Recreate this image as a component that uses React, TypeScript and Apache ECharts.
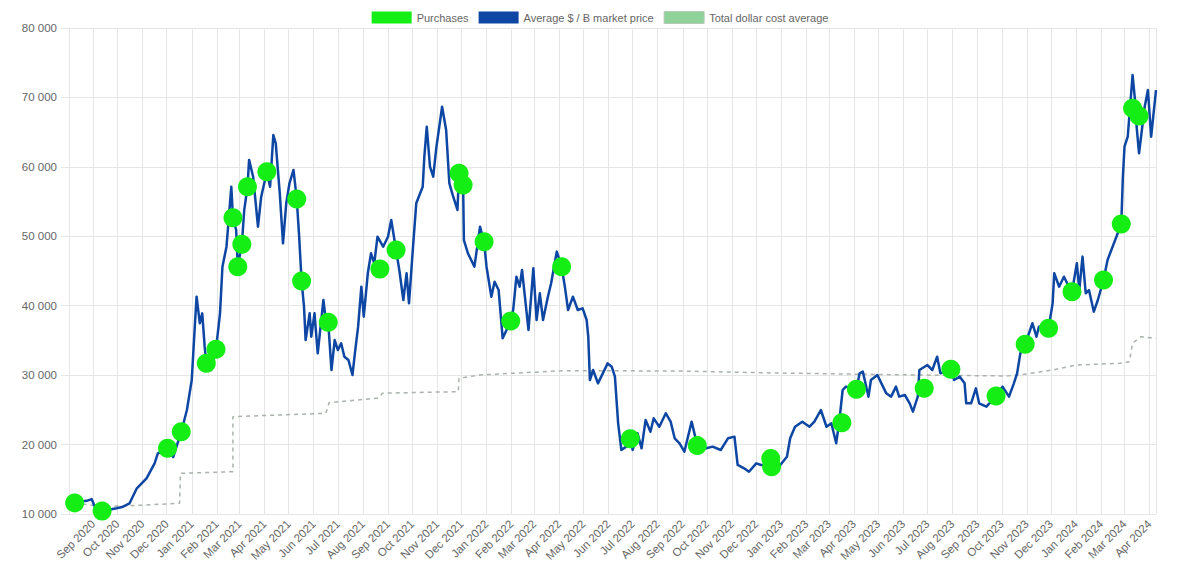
import React, { useEffect, useRef } from 'react';
import * as echarts from 'echarts';

const MONTHS = ['Jan', 'Feb', 'Mar', 'Apr', 'May', 'Jun', 'Jul', 'Aug', 'Sep', 'Oct', 'Nov', 'Dec'];

const X_MIN = '2020-08-02';
const X_MAX = '2024-04-09';
const Y_TICKS = [10000, 20000, 30000, 40000, 50000, 60000, 70000, 80000];

const PURCHASES: [string, number][] = [
  ['2020-08-09', 11600], ['2020-09-12', 10430], ['2020-12-02', 19460], ['2020-12-19', 21850],
  ['2021-01-19', 31700], ['2021-01-31', 33720], ['2021-02-21', 52680], ['2021-02-27', 45620],
  ['2021-03-04', 48840], ['2021-03-11', 57140], ['2021-04-04', 59300], ['2021-05-11', 55370],
  ['2021-05-17', 43560], ['2021-06-19', 37610], ['2021-08-22', 45290], ['2021-09-11', 48020],
  ['2021-11-28', 59070], ['2021-12-03', 57390], ['2021-12-29', 49220], ['2022-01-31', 37800],
  ['2022-04-04', 45620], ['2022-06-28', 20830], ['2022-09-19', 19850], ['2022-12-19', 18000],
  ['2022-12-20', 16800], ['2023-03-17', 23140], ['2023-04-04', 27960], ['2023-06-27', 28100],
  ['2023-07-30', 30840], ['2023-09-24', 27000], ['2023-10-30', 34440], ['2023-11-28', 36750],
  ['2023-12-27', 42020], ['2024-02-04', 43700], ['2024-02-26', 51770], ['2024-03-11', 68430],
  ['2024-03-19', 67320],
];

const PRICE_2020: [string, number][] = [
  ['2020-08-09', 11700], ['2020-08-24', 11900], ['2020-08-30', 12150], ['2020-09-03', 11050],
  ['2020-09-12', 10430], ['2020-09-30', 10820], ['2020-10-08', 11050], ['2020-10-16', 11540],
  ['2020-10-25', 13700], ['2020-11-06', 15140], ['2020-11-16', 17300], ['2020-11-20', 18740],
  ['2020-12-02', 19460], ['2020-12-09', 18200], ['2020-12-19', 21850], ['2020-12-26', 24980],
];

const PRICE_2021: [string, number][] = [
  ['2021-01-01', 29300], ['2021-01-05', 37470], ['2021-01-07', 41300], ['2021-01-11', 37470],
  ['2021-01-14', 38900], ['2021-01-17', 34100], ['2021-01-19', 31700], ['2021-01-25', 30740],
  ['2021-01-31', 33720], ['2021-02-05', 38900], ['2021-02-08', 45620], ['2021-02-13', 48500],
  ['2021-02-19', 57140], ['2021-02-21', 52680], ['2021-02-25', 50900], ['2021-02-27', 45620],
  ['2021-03-04', 48840], ['2021-03-07', 53790], ['2021-03-11', 57140], ['2021-03-13', 61000],
  ['2021-03-18', 58580], ['2021-03-24', 51380], ['2021-03-28', 55700], ['2021-04-04', 59300],
  ['2021-04-08', 57140], ['2021-04-12', 64590], ['2021-04-15', 63390], ['2021-04-20', 56180],
  ['2021-04-24', 48980], ['2021-04-28', 54750], ['2021-05-02', 57630], ['2021-05-07', 59550],
  ['2021-05-11', 55370], ['2021-05-14', 49940], ['2021-05-17', 43560], ['2021-05-20', 39860],
  ['2021-05-22', 35060], ['2021-05-27', 38900], ['2021-05-29', 35540], ['2021-06-02', 38900],
  ['2021-06-06', 33140], ['2021-06-13', 40820], ['2021-06-17', 36980], ['2021-06-19', 37610],
  ['2021-06-23', 30740], ['2021-06-27', 35060], ['2021-07-01', 33620], ['2021-07-05', 34590],
  ['2021-07-09', 32660], ['2021-07-14', 32180], ['2021-07-19', 30020], ['2021-07-22', 33140],
  ['2021-07-26', 36980], ['2021-07-30', 42740], ['2021-08-02', 38420], ['2021-08-07', 44670],
  ['2021-08-11', 47550], ['2021-08-15', 46110], ['2021-08-19', 49940], ['2021-08-26', 48500],
  ['2021-09-01', 49940], ['2021-09-05', 52340], ['2021-09-11', 48020], ['2021-09-15', 45140],
  ['2021-09-20', 40820], ['2021-09-24', 44670], ['2021-09-27', 40340], ['2021-10-02', 48500],
  ['2021-10-06', 54750], ['2021-10-14', 57140], ['2021-10-16', 61460], ['2021-10-19', 65780],
  ['2021-10-23', 60020], ['2021-10-27', 58580], ['2021-10-31', 62900], ['2021-11-07', 68660],
  ['2021-11-12', 65300], ['2021-11-16', 57630], ['2021-11-20', 56000], ['2021-11-26', 53790],
  ['2021-11-28', 59070], ['2021-12-01', 56660], ['2021-12-03', 57390], ['2021-12-04', 49460],
  ['2021-12-09', 47550], ['2021-12-17', 45620], ['2021-12-24', 51380], ['2021-12-29', 49220],
];

const PRICE_2022: [string, number][] = [
  ['2022-01-01', 45620], ['2022-01-07', 41300], ['2022-01-11', 43460], ['2022-01-16', 42260],
  ['2022-01-21', 35300], ['2022-01-31', 37800], ['2022-02-03', 39380], ['2022-02-07', 44180],
  ['2022-02-11', 42740], ['2022-02-14', 45140], ['2022-02-22', 36500], ['2022-02-28', 45380],
  ['2022-03-04', 37940], ['2022-03-08', 41780], ['2022-03-12', 37940], ['2022-03-18', 41300],
  ['2022-03-22', 43230], ['2022-03-29', 47790], ['2022-04-04', 45620], ['2022-04-08', 42740],
  ['2022-04-12', 39380], ['2022-04-18', 41300], ['2022-04-24', 39380], ['2022-04-30', 39620],
  ['2022-05-05', 37940], ['2022-05-07', 35540], ['2022-05-09', 29300], ['2022-05-13', 30740],
  ['2022-05-19', 28820], ['2022-05-25', 30260], ['2022-05-31', 31700], ['2022-06-05', 31220],
  ['2022-06-09', 29780], ['2022-06-13', 23060], ['2022-06-17', 19220], ['2022-06-23', 19700],
  ['2022-06-28', 20830], ['2022-07-01', 19220], ['2022-07-07', 21620], ['2022-07-12', 19460],
  ['2022-07-17', 23540], ['2022-07-23', 21850], ['2022-07-27', 23780], ['2022-08-03', 22570],
  ['2022-08-11', 24500], ['2022-08-17', 23300], ['2022-08-22', 20900], ['2022-08-28', 20180],
  ['2022-09-03', 18970], ['2022-09-12', 23300], ['2022-09-19', 19850], ['2022-09-30', 19460],
  ['2022-10-08', 19700], ['2022-10-18', 19220], ['2022-10-27', 20900], ['2022-11-04', 21140],
  ['2022-11-08', 17060], ['2022-11-16', 16580], ['2022-11-22', 16090], ['2022-12-01', 17300],
  ['2022-12-07', 17060], ['2022-12-19', 17100], ['2022-12-29', 16810],
];

const PRICE_2023: [string, number][] = [
  ['2023-01-08', 18250], ['2023-01-12', 20900], ['2023-01-18', 22570], ['2023-01-27', 23300],
  ['2023-02-05', 22570], ['2023-02-11', 23300], ['2023-02-19', 24980], ['2023-02-26', 22570],
  ['2023-03-04', 23060], ['2023-03-10', 20180], ['2023-03-14', 23540], ['2023-03-18', 27860],
  ['2023-03-22', 28340], ['2023-04-04', 27960], ['2023-04-08', 30260], ['2023-04-12', 30500],
  ['2023-04-19', 26900], ['2023-04-22', 29300], ['2023-04-30', 30020], ['2023-05-05', 28820],
  ['2023-05-11', 27380], ['2023-05-17', 26900], ['2023-05-23', 28340], ['2023-05-27', 26900],
  ['2023-06-03', 27140], ['2023-06-09', 25940], ['2023-06-13', 24740], ['2023-06-19', 26900],
  ['2023-06-21', 30740], ['2023-07-01', 31460], ['2023-07-07', 30740], ['2023-07-13', 32660],
  ['2023-07-17', 30260], ['2023-07-30', 30840], ['2023-08-03', 29300], ['2023-08-10', 29780],
  ['2023-08-16', 28820], ['2023-08-18', 25940], ['2023-08-24', 25940], ['2023-08-30', 28100],
  ['2023-09-03', 25940], ['2023-09-12', 25460], ['2023-09-24', 27000], ['2023-10-02', 28340],
  ['2023-10-10', 26900], ['2023-10-16', 28820], ['2023-10-20', 30260], ['2023-10-24', 33140],
  ['2023-10-30', 34440], ['2023-11-08', 37470], ['2023-11-13', 35540], ['2023-11-16', 36980],
  ['2023-11-28', 36750], ['2023-12-03', 40340], ['2023-12-05', 44670], ['2023-12-11', 42740],
  ['2023-12-17', 44180], ['2023-12-21', 43230], ['2023-12-27', 42020],
];

const PRICE_2024: [string, number][] = [
  ['2024-01-02', 46110], ['2024-01-05', 42260], ['2024-01-09', 47070], ['2024-01-13', 41780],
  ['2024-01-17', 42260], ['2024-01-23', 39140], ['2024-01-28', 40820], ['2024-02-04', 43700],
  ['2024-02-09', 46590], ['2024-02-26', 51770], ['2024-02-28', 58580], ['2024-03-01', 62900],
  ['2024-03-05', 64340], ['2024-03-11', 73230], ['2024-03-14', 69600], ['2024-03-16', 65780],
  ['2024-03-19', 61950], ['2024-03-26', 68660], ['2024-03-30', 71060], ['2024-04-03', 64340],
  ['2024-04-09', 71060],
];

const DCA_AVERAGE: [string, number][] = [
  ['2020-08-09', 11600], ['2020-09-12', 11100], ['2020-10-28', 11250], ['2020-12-17', 11540],
  ['2020-12-18', 15860], ['2021-02-21', 16100], ['2021-02-21', 24020], ['2021-06-16', 24500],
  ['2021-06-20', 26030], ['2021-08-20', 26700], ['2021-08-25', 27400], ['2021-11-27', 27620],
  ['2021-11-28', 29540], ['2021-12-23', 30020], ['2022-04-05', 30640], ['2022-08-28', 30600],
  ['2022-12-05', 30350], ['2023-03-22', 30160], ['2023-06-21', 30020], ['2023-10-06', 29880],
  ['2023-10-23', 30020], ['2023-12-03', 30740], ['2024-01-01', 31460], ['2024-02-24', 31700],
  ['2024-03-07', 31940], ['2024-03-11', 34590], ['2024-03-21', 35540], ['2024-04-09', 35300],
];

const PRICE = [...PRICE_2020, ...PRICE_2021, ...PRICE_2022, ...PRICE_2023, ...PRICE_2024];

const GRID_COLOR = '#e6e6e6';
const TEXT_COLOR = '#666';
const FONT = '"Liberation Sans", Arial, Helvetica, sans-serif';

function fmtThousands(v: number) {
  return String(v).replace(/\B(?=(\d{3})+(?!\d))/g, ' ');
}

export default function App() {
  const ref = useRef<HTMLDivElement>(null);
  useEffect(() => {
    if (!ref.current) return;
    const chart = echarts.init(ref.current, null, { renderer: 'svg' });
    chart.setOption({
      animation: false,
      backgroundColor: '#fff',
      textStyle: { fontFamily: FONT },
      legend: {
        top: 6,
        left: 'center',
        icon: 'rect',
        itemWidth: 40,
        itemHeight: 12,
        itemGap: 10,
        textStyle: { color: TEXT_COLOR, fontSize: 11, fontFamily: FONT },
        data: [
          { name: 'Purchases' },
          { name: 'Average $ / Ƀ market price' },
          { name: 'Total dollar cost average', itemStyle: { color: '#8fd39a', borderColor: '#b5c9b5', borderWidth: 1 } },
        ],
      },
      grid: { left: 69, right: 44, top: 28, bottom: 70, containLabel: false, outerBoundsMode: 'none' },
      xAxis: {
        type: 'time',
        min: X_MIN,
        max: X_MAX,
        minInterval: 28 * 86400000,
        maxInterval: 31 * 86400000,
        axisLine: { show: true, lineStyle: { color: GRID_COLOR } },
        axisTick: { show: false },
        splitLine: { show: true, lineStyle: { color: GRID_COLOR, width: 1 } },
        axisLabel: {
          rotate: 45,
          color: TEXT_COLOR,
          fontSize: 11.5,
          fontFamily: FONT,
          margin: 8,
          hideOverlap: false,
          formatter: (v: number) => {
            const d = new Date(v);
            return MONTHS[d.getMonth()] + ' ' + d.getFullYear();
          },
        },
      },
      yAxis: {
        type: 'value',
        min: Y_TICKS[0],
        max: Y_TICKS[Y_TICKS.length - 1],
        interval: 10000,
        axisLine: { show: true, lineStyle: { color: GRID_COLOR } },
        axisTick: { show: true, length: 8, lineStyle: { color: GRID_COLOR } },
        splitLine: { show: true, lineStyle: { color: GRID_COLOR, width: 1 } },
        axisLabel: {
          color: TEXT_COLOR,
          fontSize: 11.5,
          fontFamily: FONT,
          margin: 12,
          formatter: (v: number) => fmtThousands(v),
        },
      },
      series: [
        {
          name: 'Purchases',
          type: 'scatter',
          data: PURCHASES,
          symbol: 'circle',
          symbolSize: 19,
          itemStyle: { color: '#14ee14', opacity: 1 },
          z: 5,
        },
        {
          name: 'Average $ / Ƀ market price',
          type: 'line',
          data: PRICE,
          showSymbol: false,
          symbol: 'none',
          lineStyle: { color: '#0d46a3', width: 2.5, join: 'round' },
          itemStyle: { color: '#0d46a3' },
          z: 3,
        },
        {
          name: 'Total dollar cost average',
          type: 'line',
          data: DCA_AVERAGE,
          showSymbol: false,
          symbol: 'none',
          lineStyle: { color: '#a9b3a9', width: 1.5, type: [4, 4] },
          itemStyle: { color: '#8fd39a' },
          z: 2,
        },
      ],
    });
    return () => chart.dispose();
  }, []);
  return <div ref={ref} style={{ position: 'fixed', left: 0, top: 0, width: 1200, height: 584 }} />;
}
